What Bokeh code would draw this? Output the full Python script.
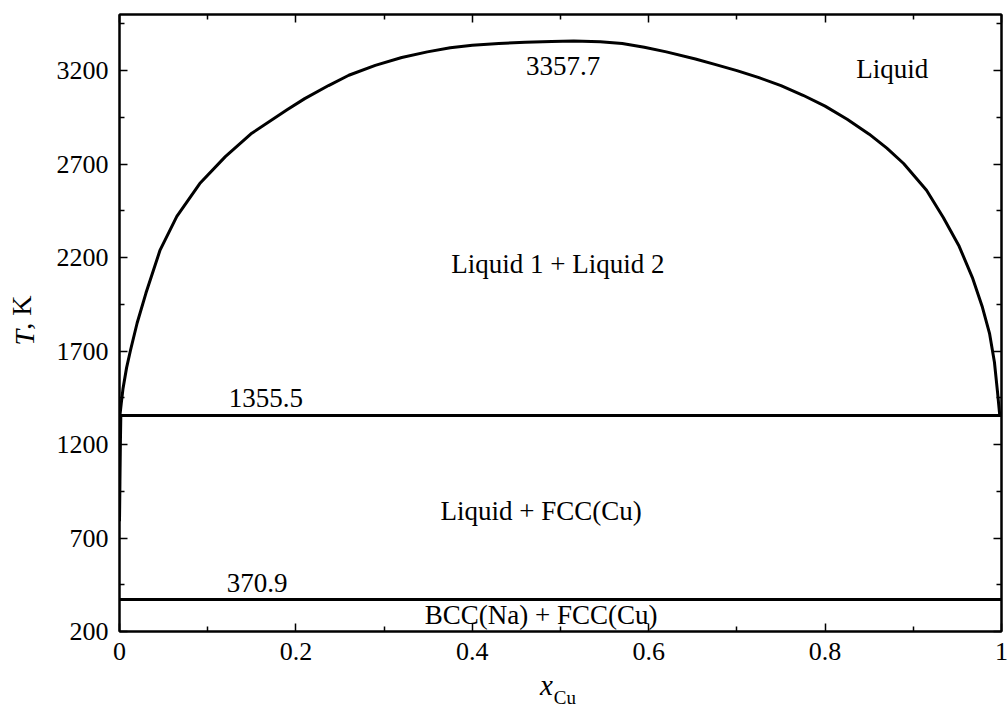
import numpy as np
from bokeh.plotting import figure
from bokeh.models import Range1d, LinearAxis, FixedTicker, Label
from bokeh.embed import file_html
from bokeh.resources import INLINE

# ---- tick data ----
x_ticks = [0, 0.2, 0.4, 0.6, 0.8, 1.0]
x_tick_labels = ["0", "0.2", "0.4", "0.6", "0.8", "1"]
x_minor = [0.1, 0.3, 0.5, 0.7, 0.9]
y_ticks = [200, 700, 1200, 1700, 2200, 2700, 3200]
y_tick_labels = ["200", "700", "1200", "1700", "2200", "2700", "3200"]
y_minor = [450, 950, 1450, 1950, 2450, 2950, 3450]

# ---- miscibility gap (Liquid 1 + Liquid 2) ----
gap_x = [0.0005, 0.002, 0.004, 0.008, 0.0124, 0.02, 0.03, 0.046, 0.065, 0.091,
         0.12, 0.15, 0.19, 0.21, 0.237, 0.26, 0.29, 0.32, 0.349, 0.375, 0.40,
         0.43, 0.46, 0.49, 0.515,
         0.545, 0.57, 0.595, 0.62, 0.653, 0.675, 0.70, 0.725, 0.75, 0.775,
         0.80, 0.825, 0.85, 0.87, 0.889, 0.915, 0.934,
         0.952, 0.967, 0.978, 0.9865, 0.992, 0.9955, 0.998]
gap_T = [1355.5, 1420, 1500, 1610, 1703, 1850, 2010, 2240, 2420, 2596,
         2740, 2865, 2990, 3050, 3120, 3175, 3228, 3270, 3300, 3322, 3335,
         3345, 3352, 3356, 3357.7,
         3354, 3345, 3325, 3300, 3262, 3233, 3200, 3162, 3120, 3068,
         3010, 2940, 2860, 2785, 2703, 2560, 2414,
         2260, 2093, 1940, 1793, 1640, 1480, 1355.5]

# ---- Na-rich liquidus below monotectic ----
liq_x = [0.0015, 0.001, 0.0005, 0.0]
liq_T = [1355.5, 1200, 1000, 790]

# ---- invariant lines ----
inv_T = [1355.5, 370.9]
inv_x0 = [0.0, 0.0]
inv_x1 = [1.0, 1.0]

# ---- region / value labels ----
lab_text = ["Liquid", "3357.7", "Liquid 1 + Liquid 2", "1355.5",
            "Liquid + FCC(Cu)", "370.9", "BCC(Na) + FCC(Cu)"]
lab_x = [0.876, 0.503, 0.497, 0.166, 0.478, 0.156, 0.478]
lab_T = [3211, 3227, 2168, 1451, 847, 457, 286]

# ---- axis titles ----
x_title = "x"
x_title_sub = "Cu"
y_title_var = "T"
y_title_unit = ", K"

FONT = "Liberation Serif"

p = figure(width=1008, height=710, frame_width=882, frame_height=617,
           x_range=Range1d(0, 1), y_range=Range1d(200, 3500),
           output_backend="svg", toolbar_location=None,
           min_border_left=119, min_border_right=7,
           min_border_top=14, min_border_bottom=79)
p.grid.visible = False
p.outline_line_color = "black"
p.outline_line_width = 2
p.background_fill_color = "white"
p.border_fill_color = "white"

xt = FixedTicker(ticks=x_ticks, minor_ticks=x_minor)
yt = FixedTicker(ticks=y_ticks, minor_ticks=y_minor)

def style_axis(ax, ticker, labels, show_labels):
    ax.ticker = ticker
    ax.axis_line_color = "black"
    ax.axis_line_width = 2
    ax.major_tick_line_color = "black"
    ax.major_tick_line_width = 1.5
    ax.minor_tick_line_color = "black"
    ax.minor_tick_line_width = 1.5
    ax.major_tick_in = 8
    ax.major_tick_out = 0
    ax.minor_tick_in = 5
    ax.minor_tick_out = 0
    if show_labels:
        ax.major_label_overrides = labels
        ax.major_label_text_font = FONT
        ax.major_label_text_font_size = "26px"
        ax.major_label_text_color = "black"
        ax.major_label_standoff = 11
    else:
        ax.major_label_text_font_size = "1px"
        ax.major_label_text_color = None
        ax.major_label_standoff = 0

style_axis(p.xaxis[0], xt, {t: s for t, s in zip(x_ticks, x_tick_labels)}, True)
style_axis(p.yaxis[0], yt, {t: s for t, s in zip(y_ticks, y_tick_labels)}, True)

top = LinearAxis()
right = LinearAxis()
style_axis(top, FixedTicker(ticks=x_ticks, minor_ticks=x_minor), {}, False)
style_axis(right, FixedTicker(ticks=y_ticks, minor_ticks=y_minor), {}, False)
p.add_layout(top, "above")
p.add_layout(right, "right")

def title_axis(pos, text, size, italic, standoff, orientation="horizontal"):
    ax = LinearAxis(ticker=FixedTicker(ticks=[pos], minor_ticks=[]))
    ax.major_label_overrides = {pos: text}
    ax.major_label_text_font = FONT
    ax.major_label_text_font_size = size
    ax.major_label_text_font_style = "italic" if italic else "normal"
    ax.major_label_text_color = "black"
    ax.major_label_standoff = standoff
    ax.major_label_orientation = orientation
    ax.axis_line_color = None
    ax.major_tick_line_color = None
    ax.minor_tick_line_color = None
    ax.major_tick_in = 0
    ax.major_tick_out = 0
    ax.minor_tick_in = 0
    ax.minor_tick_out = 0
    return ax

# x title: italic x with subscript Cu
p.add_layout(title_axis(0.484, x_title, "29px", True, 6), "below")
p.add_layout(title_axis(0.505, x_title_sub, "19px", False, -17), "below")
# y title: italic T followed by ", K"
p.add_layout(title_axis(1772, y_title_var, "28px", True, 13, "parallel"), "left")
p.add_layout(title_axis(1906, y_title_unit, "28px", False, -31, "parallel"), "left")

# curves
p.line(gap_x, gap_T, line_color="black", line_width=3, line_join="round")
p.line(liq_x, liq_T, line_color="black", line_width=3)
p.segment(x0=inv_x0, y0=inv_T, x1=inv_x1, y1=inv_T, line_color="black", line_width=3)

for t, x, y in zip(lab_text, lab_x, lab_T):
    p.add_layout(Label(x=x, y=y, text=t, text_font=FONT, text_font_size="27px",
                       text_align="center", text_baseline="middle", text_color="black"))

open("out.html", "w").write(file_html(p, INLINE))
